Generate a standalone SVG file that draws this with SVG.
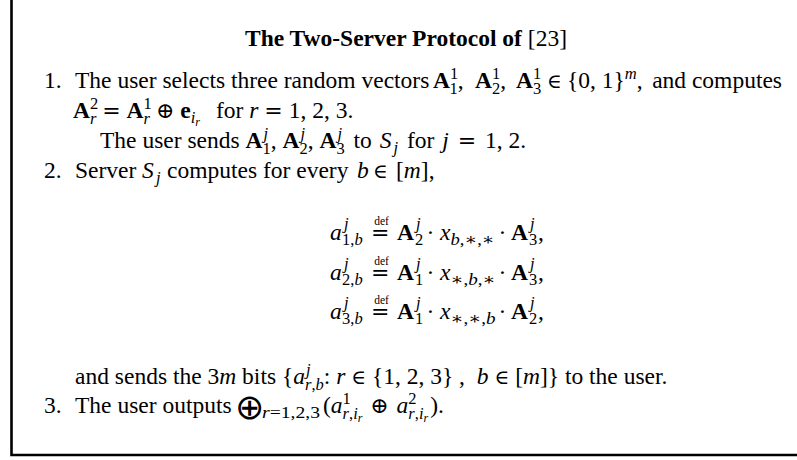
<svg xmlns="http://www.w3.org/2000/svg" width="797" height="460" viewBox="0 0 797 460">
<style>
text { font-family: "Liberation Serif", "DejaVu Serif", serif; font-size: 23.5px; fill: #000; }
.b { font-weight: bold; }
.i { font-style: italic; }
.s { font-size: 16.5px; }
.ss { font-size: 12px; }
.op { font-family: "DejaVu Serif", serif; font-size: 22px; }
.in { font-family: "DejaVu Serif", serif; font-size: 20px; }
.big { font-family: "DejaVu Sans", sans-serif; font-size: 35px; }
.def { font-size: 11.5px; }
.frame { stroke: #000; stroke-width: 2.6; fill: none; }
</style>
<rect width="797" height="460" fill="#fff"/>
<g id="frame">
<path class="frame" d="M11.5 0 V455 H797"/>
</g>
<g id="title">
<text x="245" y="46"><tspan class="b">The Two-Server Protocol of </tspan>[23]</text>
</g>
<g id="step1">
<text x="44" y="88">1.</text>
<text x="75" y="88">The user selects three random vectors <tspan class="b" x="433">A</tspan><tspan class="s" dy="-9.5">1</tspan><tspan class="s" dx="-8.25" dy="15">1</tspan><tspan dy="-5.5">,</tspan><tspan class="b" x="475">A</tspan><tspan class="s" dy="-9.5">1</tspan><tspan class="s" dx="-8.25" dy="15">2</tspan><tspan dy="-5.5">,</tspan><tspan class="b" x="516">A</tspan><tspan class="s" dy="-9.5">1</tspan><tspan class="s" dx="-8.25" dy="15">3</tspan><tspan class="in" dy="-5.5" x="547">∈</tspan><tspan x="567">{0, 1}</tspan><tspan class="s i" dy="-9">m</tspan><tspan dy="9">,</tspan></text>
<text x="782" y="88" text-anchor="end">and computes</text>
<text x="73" y="118"><tspan class="b">A</tspan><tspan class="s" dy="-9.5">2</tspan><tspan class="s i" dx="-8.25" dy="15">r</tspan><tspan dy="-5.5"> </tspan><tspan class="op">=</tspan> <tspan class="b">A</tspan><tspan class="s" dy="-9.5">1</tspan><tspan class="s i" dx="-8.25" dy="15">r</tspan><tspan dy="-5.5"> </tspan><tspan class="op">⊕</tspan> <tspan class="b">e</tspan><tspan class="s i" dy="5">i</tspan><tspan class="ss i" dy="3">r</tspan><tspan dy="-8" x="216">for </tspan><tspan class="i">r</tspan> <tspan class="op">=</tspan> 1, 2, 3.</text>
<text x="100" y="148">The user sends <tspan class="b">A</tspan><tspan class="s i" dy="-9.5" dx="1">j</tspan><tspan class="s" dx="-5.6" dy="15">1</tspan><tspan dy="-5.5">, </tspan><tspan class="b">A</tspan><tspan class="s i" dy="-9.5" dx="1">j</tspan><tspan class="s" dx="-5.6" dy="15">2</tspan><tspan dy="-5.5">, </tspan><tspan class="b">A</tspan><tspan class="s i" dy="-9.5" dx="1">j</tspan><tspan class="s" dx="-5.6" dy="15">3</tspan><tspan dy="-5.5" dx="3"> to </tspan><tspan class="i" dx="2">S</tspan><tspan class="s i" dy="5" dx="2">j</tspan><tspan dy="-5" dx="3"> for </tspan><tspan class="i" dx="2">j</tspan><tspan dx="3"> </tspan><tspan class="op">=</tspan><tspan dx="3"> 1, 2.</tspan></text>
</g>
<g id="step2">
<text x="44" y="178">2.</text>
<text x="75" y="178">Server <tspan class="i" x="142">S</tspan><tspan class="s i" dy="5" x="156">j</tspan><tspan dy="-5" x="167">computes for every</tspan><tspan class="i" x="357">b</tspan><tspan class="in" x="373">∈</tspan><tspan x="396">[</tspan><tspan class="i">m</tspan>],</text>
<g id="eq1">
<text x="330" y="240" class="i">a</text>
<text x="344" y="229" class="s i">j</text>
<text x="342" y="245" class="s">1,<tspan class="i">b</tspan></text>
<text class="def" x="381.5" y="225" text-anchor="middle">def</text>
<text class="op" x="371" y="240">=</text>
<text x="397" y="240" class="b">A</text>
<text x="416" y="229" class="s i">j</text>
<text x="415" y="245" class="s">2</text>
<text x="426.5" y="240">·</text>
<text x="440" y="240" class="i">x</text>
<text x="450.5" y="245" class="s" textLength="44" lengthAdjust="spacingAndGlyphs"><tspan class="i">b</tspan>,∗,∗</text>
<text x="498.5" y="240">·</text>
<text x="511" y="240" class="b">A</text>
<text x="530" y="229" class="s i">j</text>
<text x="529" y="245" class="s">3</text>
<text x="538" y="240">,</text>
</g>
<g id="eq2">
<text x="330" y="279.5" class="i">a</text>
<text x="344" y="268.5" class="s i">j</text>
<text x="342" y="284.5" class="s">2,<tspan class="i">b</tspan></text>
<text class="def" x="381.5" y="264.5" text-anchor="middle">def</text>
<text class="op" x="371" y="279.5">=</text>
<text x="397" y="279.5" class="b">A</text>
<text x="416" y="268.5" class="s i">j</text>
<text x="415" y="284.5" class="s">1</text>
<text x="426.5" y="279.5">·</text>
<text x="440" y="279.5" class="i">x</text>
<text x="450.5" y="284.5" class="s" textLength="45" lengthAdjust="spacingAndGlyphs">∗,<tspan class="i">b</tspan>,∗</text>
<text x="498.5" y="279.5">·</text>
<text x="511" y="279.5" class="b">A</text>
<text x="530" y="268.5" class="s i">j</text>
<text x="529" y="284.5" class="s">3</text>
<text x="538" y="279.5">,</text>
</g>
<g id="eq3">
<text x="330" y="319" class="i">a</text>
<text x="344" y="308" class="s i">j</text>
<text x="342" y="324" class="s">3,<tspan class="i">b</tspan></text>
<text class="def" x="381.5" y="304" text-anchor="middle">def</text>
<text class="op" x="371" y="319">=</text>
<text x="397" y="319" class="b">A</text>
<text x="416" y="308" class="s i">j</text>
<text x="415" y="324" class="s">1</text>
<text x="426.5" y="319">·</text>
<text x="440" y="319" class="i">x</text>
<text x="450.5" y="324" class="s" textLength="45" lengthAdjust="spacingAndGlyphs">∗,∗,<tspan class="i">b</tspan></text>
<text x="498.5" y="319">·</text>
<text x="511" y="319" class="b">A</text>
<text x="530" y="308" class="s i">j</text>
<text x="529" y="324" class="s">2</text>
<text x="538" y="319">,</text>
</g>
<text x="75" y="384">and sends the 3<tspan class="i">m</tspan> bits {<tspan class="i">a</tspan><tspan class="s i" dy="-9.5" dx="1">j</tspan><tspan class="s" dx="-5.6" dy="15"><tspan class="i">r</tspan>,<tspan class="i">b</tspan></tspan><tspan dy="-5.5">: </tspan><tspan class="i">r</tspan> <tspan class="in">∈</tspan> {1, 2, 3} , <tspan class="i" dx="6">b</tspan> <tspan class="in">∈</tspan> [<tspan class="i">m</tspan>]} to the user.</text>
</g>
<g id="step3">
<text x="44" y="413">3.</text>
<text x="75" y="413">The user outputs <tspan class="big" dy="6" x="235">⊕</tspan><tspan class="s" dy="-1" x="262" textLength="58" lengthAdjust="spacingAndGlyphs"><tspan class="i">r</tspan>=1,2,3</tspan><tspan dy="-5" x="323">(</tspan><tspan class="i">a</tspan><tspan class="s" dy="-9.5">1</tspan><tspan class="s" dx="-8.25" dy="15"><tspan class="i">r</tspan>,<tspan class="i">i</tspan></tspan><tspan class="ss i" dy="3">r</tspan><tspan dy="-8.5" dx="2"> </tspan><tspan class="op">⊕</tspan><tspan dx="2"> </tspan><tspan class="i">a</tspan><tspan class="s" dy="-9.5">2</tspan><tspan class="s" dx="-8.25" dy="15"><tspan class="i">r</tspan>,<tspan class="i">i</tspan></tspan><tspan class="ss i" dy="3">r</tspan><tspan dy="-8.5" dx="2">).</tspan></text>
</g>
</svg>
